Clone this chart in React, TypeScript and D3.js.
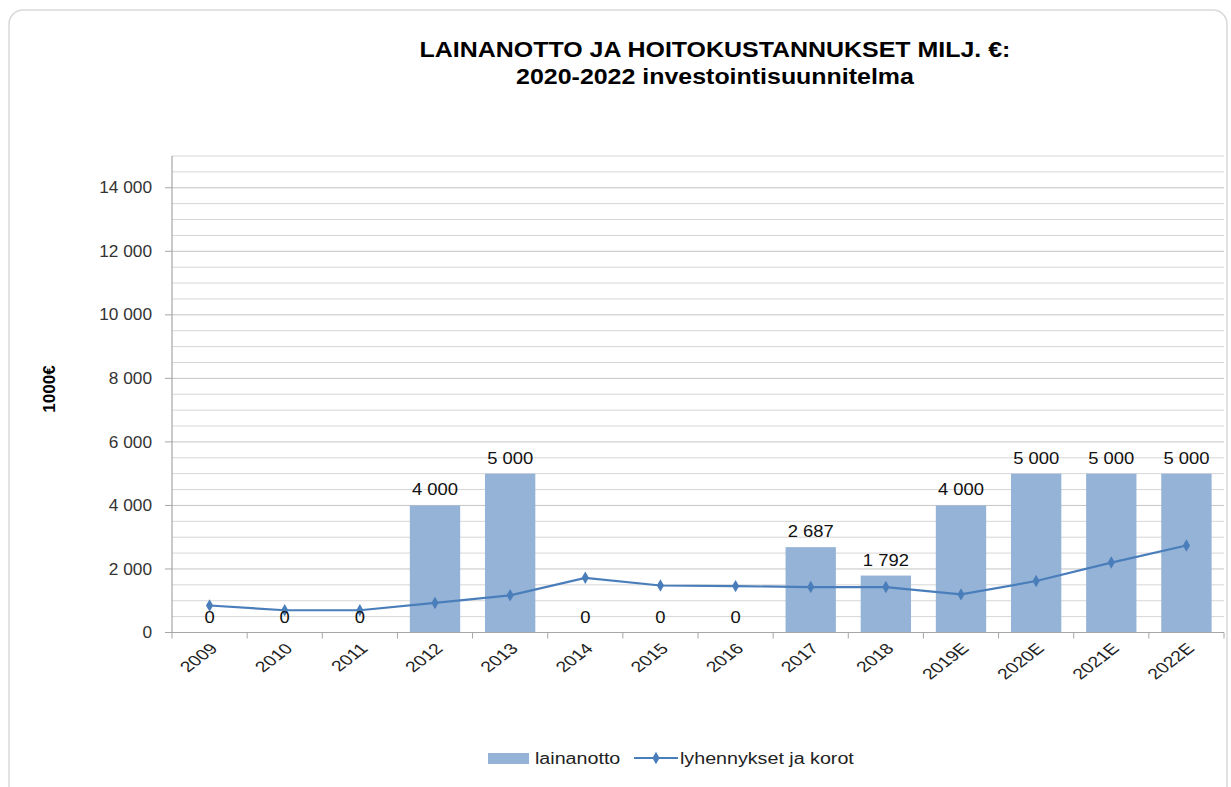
import React from "react";
import * as d3 from "d3";

const categories = ["2009","2010","2011","2012","2013","2014","2015","2016","2017","2018","2019E","2020E","2021E","2022E"];
const lainanotto = [0,0,0,4000,5000,0,0,0,2687,1792,4000,5000,5000,5000];
const lyhennykset = [850,700,700,930,1170,1720,1480,1460,1430,1430,1200,1620,2200,2740];
const yTicks = [0,2000,4000,6000,8000,10000,12000,14000];
const titleLines = ["LAINANOTTO JA HOITOKUSTANNUKSET MILJ. €:", "2020-2022 investointisuunnitelma"];
const yAxisTitle = "1000€";
const seriesNames = ["lainanotto", "lyhennykset ja korot"];

const W = 1231, H = 787;
const m = { left: 172, right: 1224, top: 156, bottom: 632.5 };
const FONT = "'Liberation Sans', Arial, sans-serif";
const BAR = "#95B3D7";
const LINE = "#4A7EBB";

const fmtSp = (v: number) => d3.format(",")(v).replace(/,/g, " ");

function SText(props: { x: number; y: number; sx: number; size: number; anchor?: string; bold?: boolean; fill?: string; dy?: string; children: React.ReactNode }) {
  const { x, y, sx, size, anchor = "start", bold, fill = "#222", dy, children } = props;
  return (
    <text transform={`translate(${x},${y}) scale(${sx},1)`} textAnchor={anchor} fontSize={size} fontWeight={bold ? "bold" : "normal"} fill={fill} dy={dy}>{children}</text>
  );
}

export default function App() {
  const x = d3.scaleBand<string>().domain(categories).range([m.left, m.right]).paddingInner(0.33).paddingOuter(0.165);
  const xb = d3.scaleBand<string>().domain(categories).range([m.left, m.right]);
  const y = d3.scaleLinear().domain([0, 15000]).range([m.bottom, m.top]);
  const grid = d3.range(500, 15001, 500);
  const cx = (i: number) => xb(categories[i])! + xb.bandwidth() / 2;
  const line = d3.line<number>().x((_, i) => cx(i)).y(d => y(d));
  const diamond = d3.symbol().type(d3.symbolDiamond).size(45)()!;

  return (
    <svg width={W} height={H} style={{ position: "absolute", left: 0, top: 0, background: "#fff" }} fontFamily={FONT}>
      <rect x={9} y={10} width={1218} height={790} rx={14} fill="#fff" stroke="#d9d9d9" strokeWidth={1.5} />
      {titleLines.map((t, i) => (
        <SText key={i} x={715} y={57 + i * 27} sx={1.085} size={23} anchor="middle" bold fill="#000">{t}</SText>
      ))}
      {/* gridlines */}
      {grid.map(g => (
        <line key={g} x1={m.left} x2={m.right} y1={y(g)} y2={y(g)} stroke={g % 2000 === 0 ? "#c4c4c4" : "#d6d6d6"} strokeWidth={1} />
      ))}
      {/* y axis */}
      <line x1={m.left} x2={m.left} y1={m.top} y2={m.bottom} stroke="#a6a6a6" strokeWidth={1.2} />
      {yTicks.map(t => (
        <g key={t}>
          <line x1={m.left - 7} x2={m.left} y1={y(t)} y2={y(t)} stroke="#a6a6a6" />
          <SText x={152} y={y(t)} sx={1.08} size={16} anchor="end" dy="0.35em" fill="#333">{fmtSp(t)}</SText>
        </g>
      ))}
      <text transform={`translate(55,389) rotate(-90)`} textAnchor="middle" fontSize={17} fontWeight="bold" fill="#000">{yAxisTitle}</text>
      {/* bars */}
      {lainanotto.map((v, i) => (
        <rect key={i} x={x(categories[i])} y={y(v)} width={x.bandwidth()} height={y(0) - y(v)} fill={BAR} />
      ))}
      {/* x axis */}
      <line x1={m.left} x2={m.right} y1={m.bottom} y2={m.bottom} stroke="#a6a6a6" strokeWidth={1.2} />
      {d3.range(categories.length + 1).map(i => {
        const xx = m.left + i * xb.step();
        return <line key={i} x1={xx} x2={xx} y1={m.bottom} y2={m.bottom + 6} stroke="#a6a6a6" />;
      })}
      {categories.map((c, i) => (
        <text key={c} transform={`translate(${cx(i) + 9},${m.bottom + 17}) scale(1.3,1) rotate(-45)`} textAnchor="end" fontSize={15} fill="#222">{c}</text>
      ))}
      {/* line */}
      <path d={line(lyhennykset)!} fill="none" stroke={LINE} strokeWidth={2.2} />
      {lyhennykset.map((v, i) => (
        <path key={i} d={diamond} transform={`translate(${cx(i)},${y(v)})`} fill={LINE} />
      ))}
      {/* bar labels */}
      {lainanotto.map((v, i) => (
        <SText key={i} x={cx(i)} y={y(v) - 10} sx={1.15} size={16} anchor="middle" fill="#111">{fmtSp(v)}</SText>
      ))}
      {/* legend */}
      <rect x={488} y={753} width={41} height={11} fill={BAR} />
      <SText x={535} y={758} sx={1.23} size={16} dy="0.35em">{seriesNames[0]}</SText>
      <line x1={634} x2={678} y1={758} y2={758} stroke={LINE} strokeWidth={2} />
      <path d={diamond} transform="translate(656,758)" fill={LINE} />
      <SText x={680} y={758} sx={1.23} size={16} dy="0.35em">{seriesNames[1]}</SText>
    </svg>
  );
}
